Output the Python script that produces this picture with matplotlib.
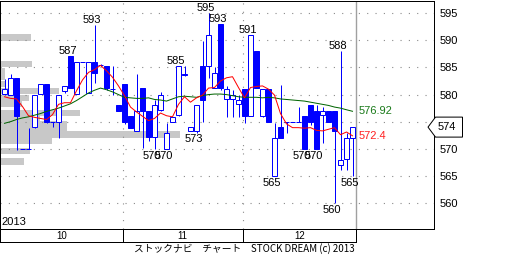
import numpy as np
import matplotlib
matplotlib.use("Agg")
import matplotlib.pyplot as plt
from matplotlib.patches import Polygon
from matplotlib.transforms import blended_transform_factory

# daily candles, Oct-Dec 2013
opens = [580.2, 580.0, 583.0, 570.0, 570.0, 574.1, 580.2, 581.9, 575.0, 575.0,
         580.7, 587.1, 580.1, 586.0, 580.3, 586.0, 585.4, 585.2, 581.0, 578.1,
         581.9, 576.1, 573.2, 581.3, 577.0, 572.1, 577.2, 570.0, 574.9, 576.2,
         583.6, 573.2, 573.2, 585.2, 585.2, 581.2, 593.0, 579.1, 579.1, 578.3,
         581.0, 576.1, 588.0, 576.1, 581.0, 565.0, 574.1, 575.0, 575.0, 575.0,
         576.1, 578.1, 577.0, 576.3, 577.0, 577.0, 567.1, 568.1, 572.0]
highs = [582.8, 583.8, 583.0, 570.0, 573.9, 580.0, 581.9, 581.9, 575.0, 580.0,
         581.6, 587.1, 586.0, 586.0, 586.0, 592.8, 585.6, 585.2, 585.2, 578.1,
         581.9, 576.1, 583.8, 581.3, 577.0, 579.0, 580.5, 574.7, 575.9, 585.2,
         585.2, 574.0, 578.0, 589.9, 595.0, 585.0, 593.0, 581.6, 580.8, 580.0,
         581.0, 591.0, 588.0, 581.0, 581.0, 574.7, 581.8, 575.0, 575.0, 577.8,
         576.1, 578.1, 578.1, 577.8, 577.0, 577.0, 588.0, 573.0, 574.0]
lows = [580.0, 580.0, 569.8, 570.0, 570.0, 573.9, 580.2, 574.8, 574.0, 571.9,
        580.3, 581.2, 580.1, 586.0, 580.3, 582.1, 585.2, 580.9, 579.9, 577.0,
        574.5, 573.9, 573.2, 570.2, 571.5, 570.0, 577.0, 570.0, 574.9, 576.0,
        583.4, 573.2, 573.0, 575.0, 583.0, 581.2, 580.8, 575.9, 575.9, 575.9,
        574.8, 576.1, 581.3, 575.9, 575.0, 565.0, 572.0, 573.0, 575.0, 575.0,
        570.0, 574.3, 570.0, 571.0, 575.0, 560.0, 566.1, 566.0, 565.0]
closes = [581.0, 583.0, 576.1, 570.0, 570.0, 580.0, 581.9, 575.0, 575.0, 580.0,
          581.6, 581.2, 586.0, 586.0, 586.0, 584.0, 585.4, 581.2, 581.0, 577.0,
          575.0, 573.9, 577.0, 577.0, 572.1, 578.0, 580.0, 573.0, 575.9, 585.2,
          583.8, 574.0, 578.0, 579.0, 591.0, 584.0, 581.2, 581.0, 580.0, 579.0,
          576.1, 591.0, 581.3, 581.0, 575.0, 572.0, 572.0, 575.0, 575.0, 575.0,
          570.0, 575.0, 570.0, 577.0, 575.0, 573.2, 568.0, 572.0, 574.0]

# moving averages as drawn (short = red, long = green)
ma_short = [579.6, 579.3, 579.2, 577.8, 576.1, 575.8, 575.6, 575.4, 576.3, 578.2,
            578.5, 578.5, 580.7, 582.7, 584.1, 584.6, 585.4, 584.4, 583.2, 581.6,
            579.8, 577.7, 576.8, 576.0, 575.2, 575.6, 576.6, 576.1, 575.9, 578.2,
            579.6, 578.6, 579.4, 579.9, 581.2, 581.3, 582.5, 583.1, 583.3, 581.3,
            579.4, 581.3, 581.5, 581.6, 581.0, 579.9, 576.5, 574.6, 573.9, 573.9,
            573.8, 573.9, 573.4, 573.3, 573.6, 573.9, 572.6, 573.1, 572.4]
ma_long = [574.7, 575.0, 575.4, 575.7, 575.9, 576.2, 576.5, 576.9, 577.2, 577.5,
           577.9, 578.3, 578.9, 579.6, 580.3, 580.8, 581.2, 580.9, 580.5, 580.0,
           579.5, 579.4, 579.3, 579.3, 579.4, 579.1, 579.0, 578.8, 579.2, 579.6,
           579.7, 579.6, 579.5, 579.8, 580.0, 580.1, 580.1, 580.0, 579.8, 579.6,
           579.5, 579.5, 579.5, 579.4, 579.5, 579.4, 579.2, 579.1, 579.0, 578.9,
           578.8, 578.6, 578.4, 578.2, 578.0, 577.7, 577.5, 577.2, 576.92]

# volume by price (left side grey bars)
vp_price = [590.55, 585.6, 584.4, 583.2, 582.0, 580.6, 579.4, 578.3, 576.55,
            575.45, 574.6, 573.7, 572.65, 571.55, 569.55, 567.65]
vp_volume = [31, 32, 5, 5, 5, 59, 29, 22, 80, 40, 67, 67, 180, 52, 30, 24]

months = ["10", "11", "12"]
month_start = [0, 20, 40]

high_marks = [11, 15, 29, 34, 36, 41, 56]
low_marks = [25, 27, 32, 45, 50, 52, 55, 58]

yticks = [560, 565, 570, 580, 585, 590, 595]

num_font = ["Liberation Sans", "DejaVu Sans"]
blue = "#0000ff"
px = 0.72  # one pixel in points at 100 dpi

n = len(closes)
x = np.arange(n)
xmin = -0.75
xmax = xmin + 434 / 6.0
x_end = n - 0.42

fig = plt.figure(figsize=(5.12, 2.56), dpi=100)
ax = fig.add_axes([0, 27 / 256, 434 / 512, 228.5 / 256])
ax.set_xlim(xmin, xmax)
ax.set_ylim(555.2, 597.36)

# grid
for v in range(560, 600, 5):
    ax.axhline(v, color="#8a8a8a", lw=0.8, ls=(0, (1, 6.5)), zorder=1)
for s in month_start[1:]:
    ax.axvline(s - 0.33, color="#8a8a8a", lw=0.8, ls=(0, (1, 6.5)), zorder=1)
ax.axvline(x_end, color="#a0a0a0", lw=1.0, zorder=1)

# volume profile
ax.barh(vp_price, np.array(vp_volume) / 6.0, height=1.15, left=xmin,
        color="#c8c8c8", zorder=0)

# candles
o = np.array(opens)
c = np.array(closes)
ax.vlines(x, lows, highs, color=blue, lw=px, zorder=3)
up = c >= o
body_lo = np.minimum(o, c)
body_h = np.abs(c - o)
ax.bar(x[up], body_h[up], bottom=body_lo[up], width=0.72, facecolor="white",
       edgecolor=blue, lw=px, zorder=4)
ax.bar(x[~up], body_h[~up], bottom=body_lo[~up], width=0.72, facecolor=blue,
       edgecolor=blue, lw=px, zorder=4)

# moving averages
ax.plot(x, ma_long, color="#006400", lw=px, zorder=5)
ax.plot(x, ma_short, color="#ff0000", lw=px, zorder=5)
ax.text(x_end + 0.45, ma_long[-1], f"{ma_long[-1]:.2f}", color="#1a7a1a",
        fontsize=8, family=num_font, va="center", ha="left")
ax.text(x_end + 0.45, ma_short[-1], f"{ma_short[-1]:.1f}", color="#ff2020",
        fontsize=8, family=num_font, va="center", ha="left")

# high / low labels
for i in high_marks:
    ax.annotate(f"{highs[i]:.0f}", (i - 0.5, highs[i]), xytext=(0, 1.6),
                textcoords="offset points", ha="center", va="baseline",
                fontsize=8, family=num_font, zorder=6)
for i in low_marks:
    ax.annotate(f"{lows[i]:.0f}", (i - 0.5, lows[i]), xytext=(0, -1.4),
                textcoords="offset points", ha="center", va="top",
                fontsize=8, family=num_font, zorder=6)

ax.text(0.003, 0.01, "2013", transform=ax.transAxes, fontsize=8,
        family=num_font, va="bottom", ha="left")

# right axis
ax.yaxis.tick_right()
ax.set_yticks(yticks)
ax.set_yticklabels([str(v) for v in yticks], fontsize=8, family=num_font)
ax.tick_params(axis="y", length=0, pad=4.3)
ax.set_xticks([])
for sp in ax.spines.values():
    sp.set_linewidth(px)
    sp.set_color("black")

# last price marker
last = closes[-1]
tr = blended_transform_factory(ax.transAxes, ax.transData)
dy = 10 / 5.42
w = 434.0
marker = Polygon([(428 / w, last), (435.5 / w, last + dy), (462.5 / w, last + dy),
                  (462.5 / w, last - dy), (435.5 / w, last - dy)], closed=True,
                 facecolor="white", edgecolor="black", lw=px, transform=tr,
                 clip_on=False, zorder=7)
ax.add_patch(marker)
ax.text(447 / w, last, f"{last:.0f}", transform=tr, ha="center", va="center",
        fontsize=8, family=num_font, zorder=8, clip_on=False)

# month strip
ax2 = fig.add_axes([0, 14 / 256, 356 / 512, 13 / 256])
ax2.set_xlim(xmin, x_end)
ax2.set_ylim(0, 1)
ax2.set_xticks([])
ax2.set_yticks([])
for sp in ax2.spines.values():
    sp.set_linewidth(px)
    sp.set_color("black")
bounds = [xmin] + [s - 0.33 for s in month_start[1:]] + [x_end]
for b in bounds[1:-1]:
    ax2.axvline(b, color="black", lw=px)
for k, m in enumerate(months):
    ax2.text((bounds[k] + bounds[k + 1]) / 2, 0.45, m, ha="center", va="center",
             fontsize=7, family=num_font)

fig.text(355 / 512, 1 - 249 / 256, "ストックナビ　チャート　STOCK DREAM (c) 2013",
         ha="right", va="center", fontsize=7,
         family=["Noto Sans CJK JP", "DejaVu Sans"])

fig.savefig("out.png", dpi=100)
